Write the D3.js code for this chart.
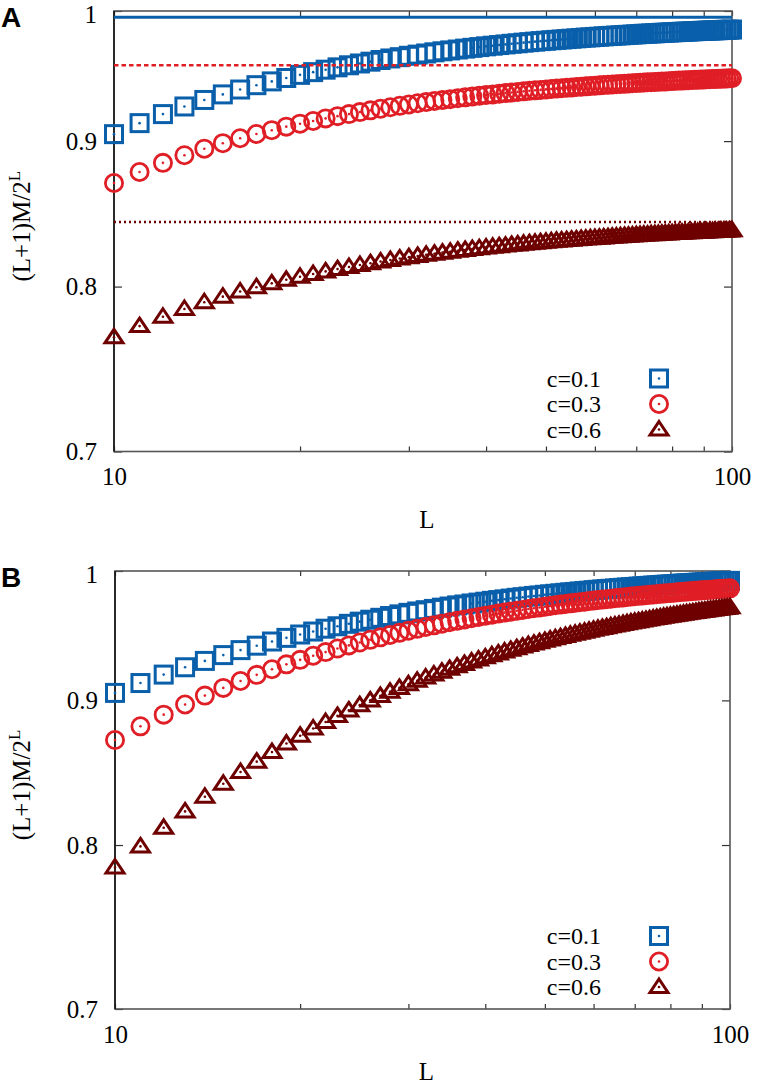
<!DOCTYPE html>
<html><head><meta charset="utf-8">
<script src="https://cdn.jsdelivr.net/npm/d3@7"></script>
<style>
body{margin:0;background:#fff}
svg{display:block}
text{font-family:"Liberation Serif","Times New Roman",serif;fill:#000}
</style>
</head><body>
<svg id="chart" width="757" height="1087"></svg>
<script>
// ---------- data ----------
const L = [10,11,12,13,14,15,16,17,18,19,20,21,22,23,24,25,26,27,28,29,30,31,32,33,34,35,36,37,38,39,40,41,42,43,44,45,46,47,48,49,50,51,52,53,54,55,56,57,58,59,60,61,62,63,64,65,66,67,68,69,70,71,72,73,74,75,76,77,78,79,80,81,82,83,84,85,86,87,88,89,90,91,92,93,94,95,96,97,98,99,100];

// Panel A
const blueA = [0.9051,0.9132,0.9199,0.9256,0.9305,0.9347,0.9384,0.9417,0.9446,0.9472,0.9496,0.9517,0.9536,0.9554,0.9570,0.9584,0.9598,0.9611,0.9623,0.9633,0.9644,0.9653,0.9662,0.9671,0.9679,0.9686,0.9693,0.9700,0.9706,0.9712,0.9718,0.9723,0.9728,0.9733,0.9738,0.9742,0.9747,0.9751,0.9755,0.9759,0.9762,0.9766,0.9769,0.9772,0.9775,0.9778,0.9781,0.9784,0.9787,0.9789,0.9792,0.9794,0.9797,0.9799,0.9801,0.9803,0.9805,0.9807,0.9809,0.9811,0.9813,0.9815,0.9817,0.9818,0.9820,0.9821,0.9823,0.9825,0.9826,0.9827,0.9829,0.9830,0.9832,0.9833,0.9834,0.9835,0.9837,0.9838,0.9839,0.9840,0.9841,0.9842,0.9843,0.9844,0.9845,0.9846,0.9847,0.9848,0.9849,0.9850,0.9851];
const redA = [0.8700,0.8778,0.8843,0.8898,0.8945,0.8985,0.9021,0.9052,0.9080,0.9106,0.9128,0.9148,0.9167,0.9184,0.9199,0.9214,0.9227,0.9239,0.9250,0.9261,0.9271,0.9280,0.9289,0.9297,0.9304,0.9311,0.9318,0.9325,0.9331,0.9337,0.9342,0.9347,0.9352,0.9357,0.9361,0.9366,0.9370,0.9374,0.9378,0.9381,0.9385,0.9388,0.9391,0.9394,0.9397,0.9400,0.9403,0.9406,0.9408,0.9411,0.9413,0.9416,0.9418,0.9420,0.9422,0.9424,0.9426,0.9428,0.9430,0.9432,0.9434,0.9435,0.9437,0.9439,0.9440,0.9442,0.9443,0.9445,0.9446,0.9448,0.9449,0.9450,0.9452,0.9453,0.9454,0.9455,0.9456,0.9458,0.9459,0.9460,0.9461,0.9462,0.9463,0.9464,0.9465,0.9466,0.9467,0.9468,0.9469,0.9470,0.9470];
const darkA = [0.7678,0.7748,0.7807,0.7856,0.7899,0.7935,0.7968,0.7996,0.8021,0.8044,0.8064,0.8082,0.8099,0.8114,0.8128,0.8141,0.8153,0.8164,0.8174,0.8184,0.8193,0.8201,0.8209,0.8216,0.8223,0.8229,0.8236,0.8241,0.8247,0.8252,0.8257,0.8262,0.8266,0.8270,0.8275,0.8278,0.8282,0.8286,0.8289,0.8292,0.8296,0.8299,0.8302,0.8304,0.8307,0.8310,0.8312,0.8315,0.8317,0.8319,0.8321,0.8323,0.8325,0.8327,0.8329,0.8331,0.8333,0.8335,0.8336,0.8338,0.8340,0.8341,0.8343,0.8344,0.8346,0.8347,0.8348,0.8350,0.8351,0.8352,0.8354,0.8355,0.8356,0.8357,0.8358,0.8359,0.8360,0.8361,0.8362,0.8363,0.8364,0.8365,0.8366,0.8367,0.8368,0.8369,0.8370,0.8370,0.8371,0.8372,0.8373];
const limitsA = [0.995, 0.957, 0.843];

// Panel B
const blueB = [0.9055,0.9128,0.9191,0.9246,0.9294,0.9338,0.9376,0.9410,0.9442,0.9470,0.9496,0.9519,0.9541,0.9560,0.9579,0.9596,0.9611,0.9626,0.9640,0.9653,0.9665,0.9676,0.9686,0.9696,0.9706,0.9715,0.9724,0.9731,0.9739,0.9746,0.9753,0.9760,0.9766,0.9772,0.9778,0.9784,0.9789,0.9794,0.9799,0.9803,0.9808,0.9812,0.9816,0.9820,0.9824,0.9828,0.9831,0.9835,0.9838,0.9841,0.9845,0.9848,0.9851,0.9854,0.9856,0.9859,0.9862,0.9864,0.9867,0.9869,0.9871,0.9874,0.9876,0.9878,0.9880,0.9882,0.9884,0.9886,0.9888,0.9890,0.9891,0.9893,0.9895,0.9897,0.9898,0.9900,0.9901,0.9903,0.9904,0.9906,0.9907,0.9909,0.9910,0.9911,0.9913,0.9914,0.9915,0.9916,0.9918,0.9919,0.9920];
const redB = [0.8714,0.8812,0.8896,0.8970,0.9035,0.9092,0.9143,0.9189,0.9231,0.9268,0.9302,0.9333,0.9361,0.9388,0.9412,0.9434,0.9455,0.9474,0.9492,0.9509,0.9525,0.9540,0.9554,0.9567,0.9580,0.9591,0.9602,0.9613,0.9623,0.9633,0.9642,0.9650,0.9659,0.9667,0.9674,0.9681,0.9688,0.9695,0.9701,0.9707,0.9713,0.9719,0.9725,0.9730,0.9735,0.9740,0.9744,0.9749,0.9753,0.9758,0.9762,0.9766,0.9770,0.9773,0.9777,0.9781,0.9784,0.9787,0.9790,0.9794,0.9797,0.9800,0.9802,0.9805,0.9808,0.9811,0.9813,0.9816,0.9818,0.9821,0.9823,0.9825,0.9828,0.9830,0.9832,0.9834,0.9836,0.9838,0.9840,0.9842,0.9844,0.9846,0.9847,0.9849,0.9851,0.9853,0.9854,0.9856,0.9857,0.9859,0.9860];
const darkB = [0.7855,0.7991,0.8113,0.8222,0.8321,0.8409,0.8490,0.8562,0.8629,0.8689,0.8745,0.8796,0.8843,0.8887,0.8927,0.8965,0.9000,0.9033,0.9064,0.9092,0.9119,0.9145,0.9169,0.9192,0.9213,0.9234,0.9253,0.9271,0.9289,0.9305,0.9321,0.9337,0.9351,0.9365,0.9378,0.9391,0.9403,0.9415,0.9426,0.9437,0.9447,0.9457,0.9467,0.9476,0.9485,0.9494,0.9502,0.9510,0.9518,0.9525,0.9533,0.9540,0.9547,0.9553,0.9560,0.9566,0.9572,0.9578,0.9584,0.9590,0.9595,0.9600,0.9605,0.9610,0.9615,0.9620,0.9625,0.9629,0.9634,0.9638,0.9642,0.9646,0.9650,0.9654,0.9658,0.9662,0.9665,0.9669,0.9672,0.9676,0.9679,0.9682,0.9686,0.9689,0.9692,0.9695,0.9698,0.9701,0.9704,0.9706,0.9709];

const seriesLabels = ["c=0.1", "c=0.3", "c=0.6"];
const yTicks = [0.7, 0.8, 0.9, 1];
const xTicks = [10, 20, 30, 40, 50, 60, 70, 80, 90, 100];
const xTickLabels = [10, 100];
const panelLetters = ["A", "B"];

// ---------- styling ----------
const SERIF = "'Liberation Serif', 'Times New Roman', Times, serif";
const colors = ["#0a5fab", "#e01e26", "#6e0000"];
const shapes = ["square", "circle", "triangle"];
const limitDash = [null, "4.5,3", "2,3"];
const limitWidth = [3, 2.5, 2.5];

const svg = d3.select("#chart");

const panels = [
  {letter: panelLetters[0], left: 114, right: 732, top: 11, bottom: 451.5, data: [blueA, redA, darkA], limits: limitsA},
  {letter: panelLetters[1], left: 115, right: 730, top: 571, bottom: 1009, data: [blueB, redB, darkB], limits: null}
];

function marker(sel, shape, color) {
  if (shape === "square") {
    sel.append("rect").attr("x", -8.5).attr("y", -8.5).attr("width", 17).attr("height", 17)
      .attr("fill", "none").attr("stroke", color).attr("stroke-width", 3);
  } else if (shape === "circle") {
    sel.append("circle").attr("r", 8.6).attr("fill", "none").attr("stroke", color).attr("stroke-width", 2.8);
  } else {
    sel.append("path").attr("d", "M0,-8L9,5.5L-9,5.5Z").attr("fill", "none")
      .attr("stroke", color).attr("stroke-width", 3).attr("stroke-linejoin", "miter");
  }
  sel.append("circle").attr("r", 1.3).attr("fill", color);
}

panels.forEach(p => {
  const x = d3.scaleLog().domain([10, 100]).range([p.left, p.right]);
  const y = d3.scaleLog().domain([0.7, 1]).range([p.bottom, p.top]);
  const g = svg.append("g");

  const styleAxis = a => {
    a.select(".domain").remove();
    a.attr("font-size", null).attr("font-family", null);
    a.selectAll(".tick line").attr("stroke", "#333").attr("stroke-width", 1.2);
    a.selectAll(".tick text").style("font-size", "25px").style("font-family", SERIF).attr("fill", "#000");
  };
  g.append("g").attr("transform", `translate(0,${p.bottom})`)
    .call(d3.axisBottom(x).tickValues(xTicks).tickSize(-5).tickPadding(16)
      .tickFormat(d => xTickLabels.includes(d) ? String(d) : ""))
    .call(styleAxis);
  g.append("g").attr("transform", `translate(0,${p.top})`)
    .call(d3.axisTop(x).tickValues(xTicks).tickSize(-5).tickFormat(""))
    .call(styleAxis);
  const ly = g.append("g").attr("transform", `translate(${p.left},0)`)
    .call(d3.axisLeft(y).tickValues(yTicks).tickSize(-8).tickPadding(17)
      .tickFormat(d => d === 1 ? "1" : d.toFixed(1)))
    .call(styleAxis);
  ly.selectAll(".tick text").filter(d => d === 1).attr("dy", "0.46em");
  g.append("g").attr("transform", `translate(${p.right},0)`)
    .call(d3.axisRight(y).tickValues(yTicks).tickSize(-8).tickFormat(""))
    .call(styleAxis);

  // frame
  g.append("rect").attr("x", p.left).attr("y", p.top)
    .attr("width", p.right - p.left).attr("height", p.bottom - p.top)
    .attr("fill", "none").attr("stroke", "#555").attr("stroke-width", 1.6);
  g.append("line").attr("x1", p.left).attr("x2", p.left).attr("y1", p.top).attr("y2", p.bottom)
    .attr("stroke", "#000").attr("stroke-width", 1.3);

  // series
  p.data.forEach((vals, si) => {
    const sg = g.append("g");
    sg.selectAll("g.pt").data(vals).join("g").attr("class", "pt")
      .attr("transform", (d, i) => `translate(${x(L[i])},${y(d)})`)
      .each(function () { marker(d3.select(this), shapes[si], colors[si]); });
    if (p.limits) {
      const ln = sg.append("line")
        .attr("x1", x(10)).attr("x2", x(100))
        .attr("y1", y(p.limits[si])).attr("y2", y(p.limits[si]))
        .attr("stroke", colors[si]).attr("stroke-width", limitWidth[si]);
      if (limitDash[si]) ln.attr("stroke-dasharray", limitDash[si]);
    }
  });

  // legend
  seriesLabels.forEach((lab, i) => {
    const yy = p.bottom - 73 + i * 25.5;
    g.append("text").attr("x", 601).attr("y", yy).attr("dy", "0.34em")
      .attr("text-anchor", "end").style("font-size", "24px").style("font-family", SERIF).text(lab);
    const mg = g.append("g").attr("transform", `translate(659,${yy})`);
    marker(mg, shapes[i], colors[i]);
  });

  // axis titles
  g.append("text").attr("x", (p.left + p.right) / 2 + 4).attr("y", Math.min(p.bottom + 76, 1080))
    .attr("text-anchor", "middle").style("font-size", "25px").style("font-family", SERIF).text("L");
  const yl = g.append("text")
    .attr("transform", `translate(30,${(p.top + p.bottom) / 2 - 5}) rotate(-90)`)
    .attr("text-anchor", "middle").style("font-size", "25px").style("font-family", SERIF);
  yl.append("tspan").text("(L+1)M/2");
  yl.append("tspan").attr("dy", -10).style("font-size", "17px").text("L");

  // panel letter
  g.append("text").attr("x", 1).attr("y", p.top + 16)
    .style("font-family", "'Liberation Sans', Arial, sans-serif")
    .style("font-weight", "bold").style("font-size", "28px").text(p.letter);
});
</script>
</body></html>
